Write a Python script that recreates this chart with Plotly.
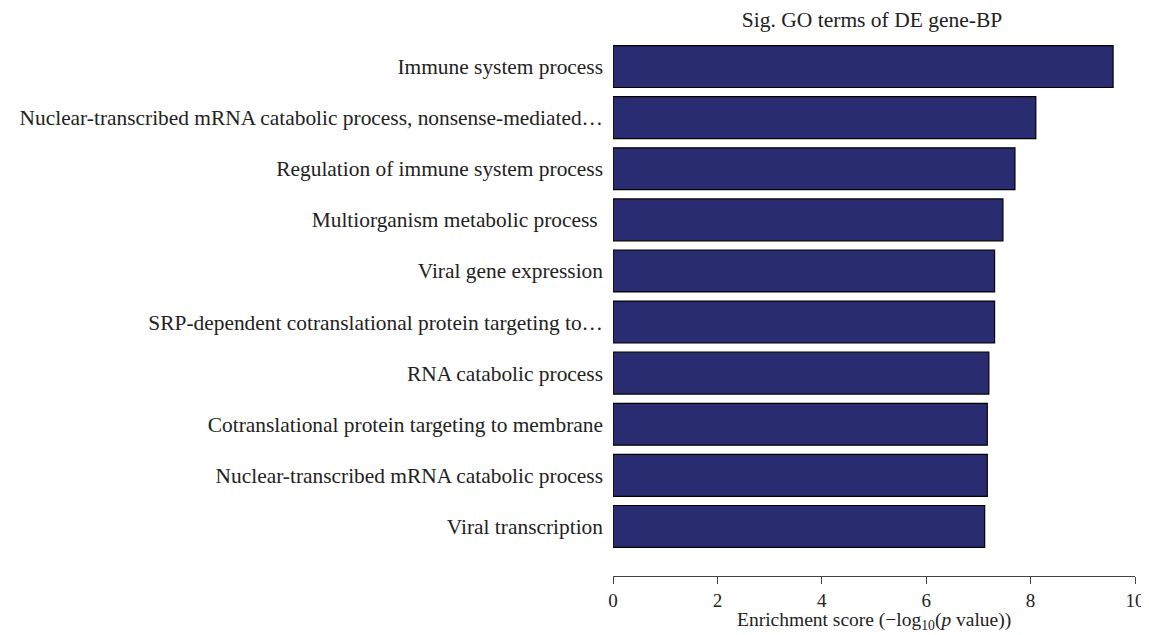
import plotly.graph_objects as go

terms = [
    "Immune system process",
    "Nuclear-transcribed mRNA catabolic process, nonsense-mediated\u2026",
    "Regulation of immune system process",
    "Multiorganism metabolic process ",
    "Viral gene expression",
    "SRP-dependent cotranslational protein targeting to\u2026",
    "RNA catabolic process",
    "Cotranslational protein targeting to membrane",
    "Nuclear-transcribed mRNA catabolic process",
    "Viral transcription",
]
scores = [9.58, 8.10, 7.70, 7.47, 7.31, 7.31, 7.20, 7.17, 7.17, 7.12]
x_ticks = [0, 2, 4, 6, 8, 10]

serif = "Liberation Serif, Times New Roman, serif"

fig = go.Figure()
fig.add_trace(go.Bar(
    x=scores, y=terms, orientation="h",
    marker=dict(color="#2a2c72", line=dict(color="black", width=1.2)),
    showlegend=False,
))

# x-axis title placed as an annotation so the subscript is not clipped
fig.add_annotation(
    text="Enrichment score (\u2212log<sub>10</sub>(<i>p</i> value))",
    xref="paper", yref="paper", x=0.5, y=-0.085,
    xanchor="center", yanchor="middle", showarrow=False,
    font=dict(size=19.5, family=serif, color="#222"),
)

fig.update_layout(
    width=1149, height=635,
    margin=dict(l=604, r=18, t=33, b=67),
    paper_bgcolor="white", plot_bgcolor="white",
    bargap=0.18,
    font=dict(family=serif, size=20, color="#222"),
    title=dict(text="Sig. GO terms of DE gene-BP", x=0.752, xanchor="center",
               y=0.982, yanchor="middle", font=dict(size=21.5, family=serif, color="#222")),
    xaxis=dict(
        range=[0, 10], tickvals=x_ticks, showgrid=False, zeroline=False,
        showline=True, linecolor="#444", linewidth=1.2,
        ticks="outside", ticklen=7, tickcolor="#444", tickwidth=1.2,
        tickfont=dict(size=19),
    ),
    yaxis=dict(
        categoryorder="array", categoryarray=terms,
        range=[9.97, -0.5], showgrid=False, zeroline=False, showline=False,
        ticks="", ticklabelstandoff=9, tickfont=dict(size=21.4),
    ),
)

fig.write_html("out.html")
